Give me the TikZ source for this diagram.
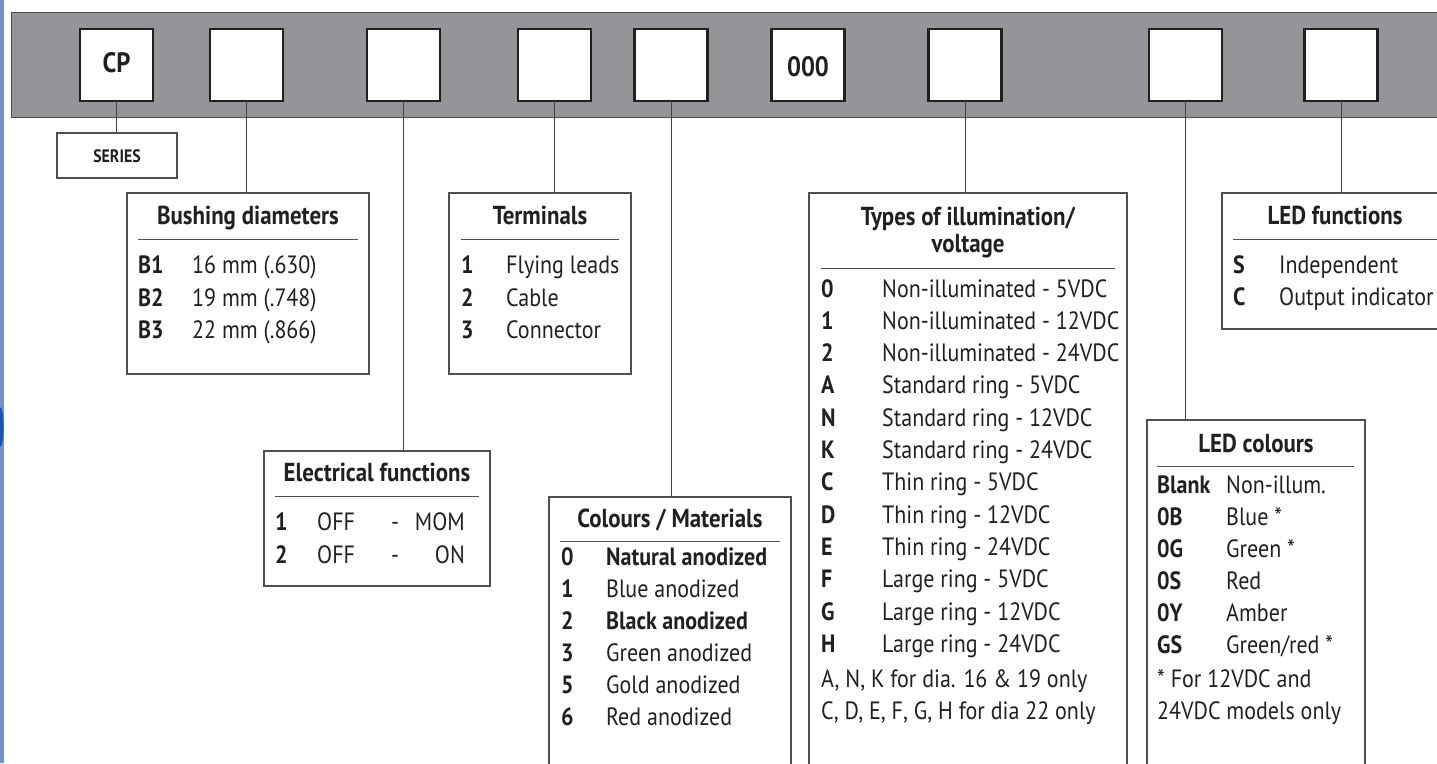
\documentclass[tikz,border=0pt]{standalone}
\usepackage{fontspec}
\setmainfont{PT Sans}[FakeStretch=0.88]
\definecolor{bandgray}{RGB}{147,149,152}
\definecolor{ink}{RGB}{35,31,32}
\definecolor{boxgray}{RGB}{80,80,82}
\definecolor{stripblue}{RGB}{115,145,195}
\definecolor{dotblue}{RGB}{25,85,170}
\tikzset{
  codebox/.style={draw=ink, line width=2.4pt, fill=white, minimum width=73pt, minimum height=72pt, inner sep=0pt, outer sep=0pt},
  infobox/.style={draw=boxgray, line width=1.1pt, fill=white, inner sep=0pt, outer sep=0pt, anchor=north west},
  conn/.style={draw=ink!85, line width=1pt},
  rulel/.style={draw=boxgray, line width=1pt},
  ttl/.style={font=\bfseries\fontsize{26}{30}\selectfont, text=ink, anchor=base, inner sep=0pt},
  keyt/.style={font=\bfseries\fontsize{25}{29}\selectfont, text=ink, anchor=base west, inner sep=0pt},
  valt/.style={font=\fontsize{25}{29}\selectfont, text=ink, anchor=base west, inner sep=0pt},
  valb/.style={font=\bfseries\fontsize{25}{29}\selectfont, text=ink, anchor=base west, inner sep=0pt},
  valr/.style={font=\fontsize{25}{29}\selectfont, text=ink, anchor=base east, inner sep=0pt},
  valc/.style={font=\fontsize{25}{29}\selectfont, text=ink, anchor=base, inner sep=0pt},
  codet/.style={font=\bfseries\fontsize{28}{32}\selectfont, text=ink, anchor=base, inner sep=0pt}
}
\begin{document}
\begin{tikzpicture}[x=1pt,y=-1pt]
\useasboundingbox (0,0) rectangle (1437,763);
\clip (0,0) rectangle (1437,763);
\fill[white] (0,0) rectangle (1437,763);
% left strip
\fill[stripblue] (0,0) rectangle (4,763);
\fill[dotblue] (0,407) arc[start angle=-90, end angle=90, x radius=3.6, y radius=20];
% band
\draw[fill=bandgray, draw=ink!80, line width=1pt] (11,12) rectangle (1450,117);
% code boxes
\node[codebox] (cp) at (116.5,65) {};
\node[codebox] (b2) at (246.5,65) {};
\node[codebox] (b3) at (403.5,65) {};
\node[codebox] (b4) at (554.5,65) {};
\node[codebox] (b5) at (671,65) {};
\node[codebox] (b6) at (808,65) {};
\node[codebox] (b7) at (965,65) {};
\node[codebox] (b8) at (1185.5,65) {};
\node[codebox] (b9) at (1341,65) {};
\node[codet] at (116.5,72) {CP};
\node[codet] at (808,76) {000};
% info boxes
\node[infobox, minimum width=120pt, minimum height=45pt] (series) at (57,133) {};
\node[font=\bfseries\fontsize{18}{21}\selectfont, text=ink, inner sep=0pt, anchor=base] at (117,162) {SERIES};
\node[infobox, minimum width=242pt, minimum height=181pt] (bush) at (127,193) {};
\node[infobox, minimum width=182pt, minimum height=181pt] (term) at (449,193) {};
\node[infobox, minimum width=226pt, minimum height=135pt] (elec) at (264,451) {};
\node[infobox, minimum width=242pt, minimum height=300pt] (colm) at (549,497) {};
\node[infobox, minimum width=318pt, minimum height=600pt] (illum) at (809,193) {};
\node[infobox, minimum width=218pt, minimum height=400pt] (ledc) at (1147,420) {};
\node[infobox, minimum width=260pt, minimum height=136pt] (ledf) at (1222,193) {};
% connectors
\draw[conn] (cp.south) -- (cp.south |- series.north);
\draw[conn] (b2.south) -- (b2.south |- bush.north);
\draw[conn] (b3.south) -- (b3.south |- elec.north);
\draw[conn] (b4.south) -- (b4.south |- term.north);
\draw[conn] (b5.south) -- (b5.south |- colm.north);
\draw[conn] (b7.south) -- (b7.south |- illum.north);
\draw[conn] (b8.south) -- (b8.south |- ledc.north);
\draw[conn] (b9.south) -- (b9.south |- ledf.north);
% Bushing diameters
\node[ttl] at (248,224) {Bushing diameters};
\draw[rulel] (138,239) -- (358,239);
\node[keyt] at (138,273) {B1}; \node[valt] at (192,273) {16 mm (.630)};
\node[keyt] at (138,306) {B2}; \node[valt] at (192,306) {19 mm (.748)};
\node[keyt] at (138,338) {B3}; \node[valt] at (192,338) {22 mm (.866)};
% Terminals
\node[ttl] at (540,224) {Terminals};
\draw[rulel] (461,239) -- (619,239);
\node[keyt] at (461,273) {1}; \node[valt] at (506,273) {Flying leads};
\node[keyt] at (461,306) {2}; \node[valt] at (506,306) {Cable};
\node[keyt] at (461,338) {3}; \node[valt] at (506,338) {Connector};
% Electrical functions
\node[ttl] at (377,481) {Electrical functions};
\draw[rulel] (275,496) -- (479,496);
\node[keyt] at (275,530) {1}; \node[valt] at (317,530) {OFF}; \node[valc] at (395,530) {-}; \node[valr] at (465,530) {MOM};
\node[keyt] at (275,563) {2}; \node[valt] at (317,563) {OFF}; \node[valc] at (395,563) {-}; \node[valr] at (465,563) {ON};
% Colours / Materials
\node[ttl] at (670,527) {Colours / Materials};
\draw[rulel] (560,541) -- (780,541);
\node[keyt] at (561,565) {0}; \node[valb] at (606,565) {Natural anodized};
\node[keyt] at (561,597) {1}; \node[valt] at (606,597) {Blue anodized};
\node[keyt] at (561,629) {2}; \node[valb] at (606,629) {Black anodized};
\node[keyt] at (561,661) {3}; \node[valt] at (606,661) {Green anodized};
\node[keyt] at (561,693) {5}; \node[valt] at (606,693) {Gold anodized};
\node[keyt] at (561,725) {6}; \node[valt] at (606,725) {Red anodized};
% Types of illumination
\node[ttl] at (968,225) {Types of illumination/};
\node[ttl] at (968,252) {voltage};
\draw[rulel] (821,268) -- (1115,268);
\foreach \k/\v [count=\i from 0] in {0/Non-illuminated - 5VDC, 1/Non-illuminated - 12VDC, 2/Non-illuminated - 24VDC, A/Standard ring - 5VDC, N/Standard ring - 12VDC, K/Standard ring - 24VDC, C/Thin ring - 5VDC, D/Thin ring - 12VDC, E/Thin ring - 24VDC, F/Large ring - 5VDC, G/Large ring - 12VDC, H/Large ring - 24VDC} {
  \node[keyt] at (821,297+32.3*\i) {\k};
  \node[valt] at (882,297+32.3*\i) {\v};
}
\node[valt] at (821,687) {A, N, K for dia. 16 \& 19 only};
\node[valt] at (821,719) {C, D, E, F, G, H for dia 22 only};
% LED functions
\node[ttl] at (1335,224) {LED functions};
\draw[rulel] (1233,239) -- (1440,239);
\node[keyt] at (1233,273) {S}; \node[valt] at (1279,273) {Independent};
\node[keyt] at (1233,305) {C}; \node[valt] at (1279,305) {Output indicator};
% LED colours
\node[ttl] at (1256,452) {LED colours};
\draw[rulel] (1157,466) -- (1354,466);
\foreach \k/\v [count=\i from 0] in {Blank/{Non-illum.}, 0B/{Blue *}, 0G/{Green *}, 0S/{Red}, 0Y/{Amber}, GS/{Green/red *}} {
  \node[keyt] at (1157,493+32*\i) {\k};
  \node[valt] at (1226,493+32*\i) {\v};
}
\node[valt] at (1157,687) {* For 12VDC and};
\node[valt] at (1157,719) {24VDC models only};
\end{tikzpicture}
\end{document}
